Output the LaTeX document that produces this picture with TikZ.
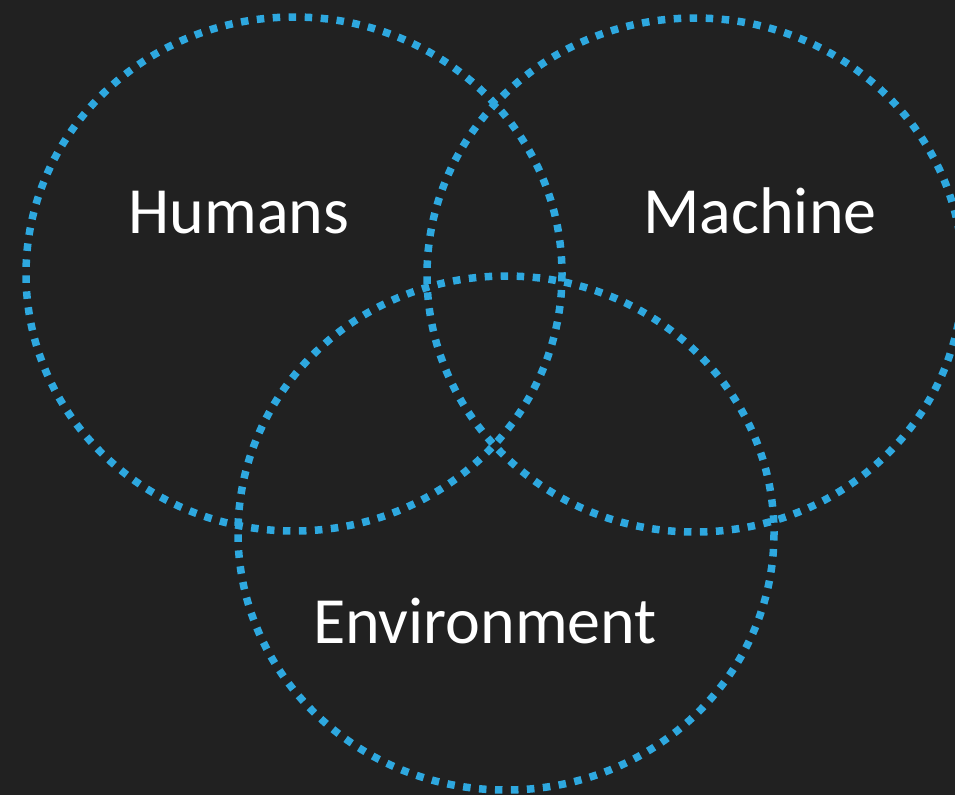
\documentclass[tikz,border=0pt]{standalone}
\usepackage{fontspec}
\setmainfont{Carlito}
\definecolor{bg}{HTML}{212121}
\definecolor{ring}{HTML}{2EA8DF}
\begin{document}
\begin{tikzpicture}[x=1pt,y=-1pt,
  ringstyle/.style={draw=ring, line width=7.5pt, dash pattern=on 7.5pt off 8.5pt},
  label/.style={text=white, font=\fontsize{66}{79}\selectfont, anchor=base, inner sep=0pt}]
\fill[bg] (0,0) rectangle (955,795);
\useasboundingbox (0,0) rectangle (955,795);
\begin{scope}
\clip (0,0) rectangle (955,795);
\draw[ringstyle] (294,274) ellipse [x radius=268, y radius=257];
\draw[ringstyle] (695,275) ellipse [x radius=268, y radius=257];
\draw[ringstyle] (506,533) ellipse [x radius=268, y radius=257];
\end{scope}
\node[label] (humans) at (239,233) {Humans};
\node[label] (machine) at (760,233) {Machine};
\node[label] (env) at (485,643) {Environment};
\end{tikzpicture}
\end{document}
